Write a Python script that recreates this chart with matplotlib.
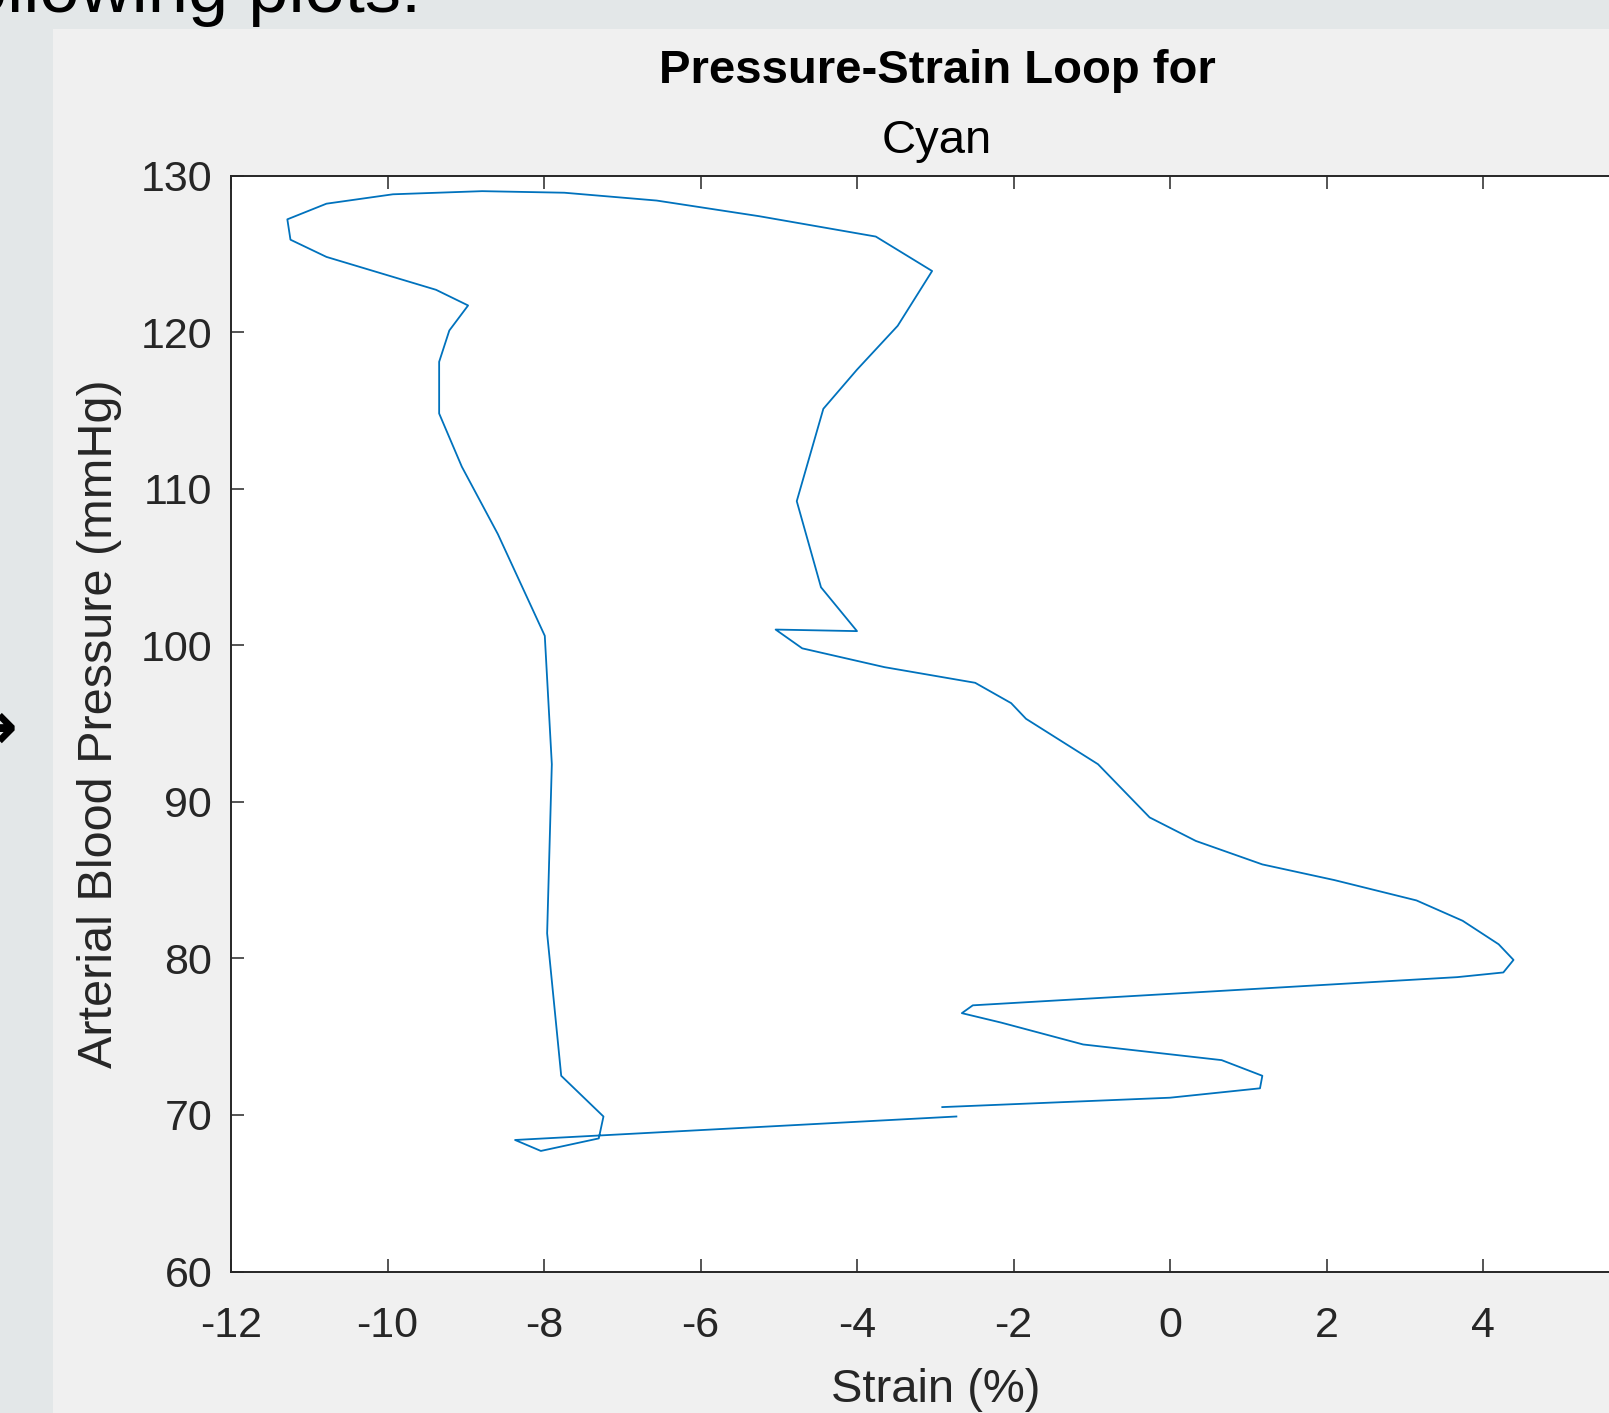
import matplotlib
matplotlib.use("Agg")
import matplotlib.pyplot as plt
from matplotlib.patches import Rectangle

# ---- data ----
strain = [-2.73, -8.37, -8.04, -7.30, -7.24, -7.78, -7.96, -7.90, -7.99, -8.59,
          -9.05, -9.34, -9.34, -9.21, -8.97, -9.38, -10.78, -11.24, -11.28, -10.78,
          -9.93, -8.79, -7.74, -6.56, -5.25, -3.76, -3.04, -3.48, -4.00, -4.43,
          -4.77, -4.46, -4.00, -5.04, -4.70, -3.65, -2.49, -2.03, -1.84, -0.92,
          -0.26, 0.33, 1.18, 2.10, 3.15, 3.74, 4.20, 4.39, 4.26, 3.67,
          -2.52, -2.66, -2.16, -1.11, 0.66, 1.18, 1.15, 0.00, -2.91]
pressure = [69.9, 68.4, 67.7, 68.5, 69.9, 72.5, 81.6, 92.4, 100.6, 107.1,
            111.4, 114.8, 118.1, 120.1, 121.7, 122.7, 124.8, 125.9, 127.2, 128.2,
            128.8, 129.0, 128.9, 128.4, 127.4, 126.1, 123.9, 120.4, 117.6, 115.1,
            109.2, 103.7, 100.9, 101.0, 99.8, 98.6, 97.6, 96.3, 95.3, 92.4,
            89.0, 87.5, 86.0, 85.0, 83.7, 82.4, 80.9, 79.9, 79.1, 78.8,
            77.0, 76.5, 75.9, 74.5, 73.5, 72.5, 71.7, 71.1, 70.5]
x_ticks = [-12, -10, -8, -6, -4, -2, 0, 2, 4]
y_ticks = [60, 70, 80, 90, 100, 110, 120, 130]
title_line1 = "Pressure-Strain Loop for"
title_line2 = "Cyan"
x_label = "Strain (%)"
y_label = "Arterial Blood Pressure (mmHg)"

W, H = 1609, 1413
DPI = 100
plt.rcParams['font.family'] = ['Liberation Sans', 'DejaVu Sans']
plt.rcParams['axes.unicode_minus'] = False

fig = plt.figure(figsize=(W / DPI, H / DPI), dpi=DPI, facecolor='#f0f0f0')

# outer slide strips
strip = '#e3e7e8'
fig.patches.append(Rectangle((0, 0), 53 / W, 1, transform=fig.transFigure,
                             facecolor=strip, edgecolor='none', zorder=0))
fig.patches.append(Rectangle((0, 1 - 29 / H), 1, 29 / H, transform=fig.transFigure,
                             facecolor=strip, edgecolor='none', zorder=0))

# cut-off slide text and arrow
fig.text(421 / W, 1 - 12 / H, "following plots:", ha='right', va='baseline',
         fontsize=52, color='black')
fig.text(17 / W, 1 - 730 / H, "\u2192", ha='right', va='center',
         fontsize=48, color='black', family='DejaVu Sans', fontweight='bold')

# axes
ax_left = 231 / W
ax_bottom = 1 - 1271.5 / H
ax_height = (1271.5 - 175.5) / H
ax_width = 18 * 78.25 / W
ax = fig.add_axes([ax_left, ax_bottom, ax_width, ax_height])
ax.set_facecolor('white')

ax.plot(strain, pressure, color='#0072BD', lw=1.3)

ax.set_xlim(-12, 6)
ax.set_ylim(60, 130)
ax.set_xticks(x_ticks)
ax.set_yticks(y_ticks)

dark = '#262626'
for s in ax.spines.values():
    s.set_color(dark)
    s.set_linewidth(1.4)
ax.tick_params(axis='both', direction='in', length=9.5, width=1.1,
               colors=dark, labelsize=31, top=True, right=True)
ax.tick_params(axis='x', pad=24.5)
ax.tick_params(axis='y', pad=13.5)
for lab in ax.get_xticklabels() + ax.get_yticklabels():
    lab.set_color(dark)

ax.set_xlabel(x_label, fontsize=34, color=dark)
ax.xaxis.label.set_va('baseline')
ax.xaxis.set_label_coords(0.5003, (11 - 141.5) / 1096)
ax.set_ylabel(y_label, fontsize=35, color=dark)
ax.yaxis.set_label_coords((122 - 231) / (18 * 78.25), 0.5)

fig.text(937 / W, 1 - 83 / H, title_line1, ha='center', va='baseline',
         fontsize=34, fontweight='bold', color='black')
fig.text(937 / W, 1 - 153 / H, title_line2, ha='center', va='baseline',
         fontsize=34, color='black')

fig.savefig("out.png", dpi=DPI, facecolor=fig.get_facecolor())
